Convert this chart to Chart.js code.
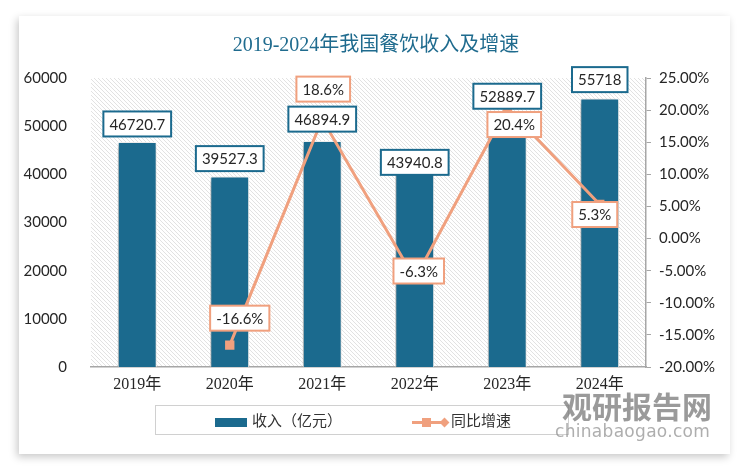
<!DOCTYPE html>
<html>
<head>
<meta charset="utf-8">
<script src="https://cdn.jsdelivr.net/npm/chart.js@4.4.1/dist/chart.umd.min.js"></script>
<style>
html,body{margin:0;padding:0;background:#fff;}
#wrap{position:relative;width:750px;height:471px;overflow:hidden;font-family:Lato,"Noto Sans CJK SC",sans-serif;}
#card{position:absolute;left:19px;top:16px;width:711px;height:438px;background:#fff;box-shadow:-2px 3px 8px rgba(0,0,0,.22);}
#c{position:absolute;left:0;top:0;}
#ttl{position:absolute;left:0;width:752px;top:28px;text-align:center;font:20px "Liberation Serif","Noto Sans CJK SC",serif;color:#1f6b8e;}
#leg{position:absolute;left:155px;top:405px;width:414px;height:30px;border:1px solid #d0d0d0;box-sizing:border-box;font:15px "Noto Sans CJK SC",sans-serif;color:#333;}
#leg .sw{position:absolute;left:59px;top:12px;width:32px;height:9px;background:#1b6a8e;}
#leg .t1{position:absolute;left:96px;top:3px;}
#leg .ln{position:absolute;left:256px;top:15px;width:36px;height:3px;background:#f0a07e;}
#leg .sq{position:absolute;left:266px;top:12px;width:9px;height:9px;background:#f0a07e;}
#leg .dm{position:absolute;left:285px;top:13px;width:7px;height:7px;background:#f0a07e;transform:rotate(45deg);}
#leg .t2{position:absolute;left:295px;top:3px;}
#wm1{position:absolute;left:562px;top:383px;font:bold 30px "Noto Sans CJK SC",sans-serif;color:rgba(120,120,120,.75);}
#wm2{position:absolute;left:555px;top:421px;font:17px "DejaVu Sans",sans-serif;color:rgba(140,140,140,.7);letter-spacing:0.3px;}
</style>
</head>
<body>
<div id="wrap">
  <div id="card"></div>
  <canvas id="c" width="750" height="471"></canvas>
  <div id="ttl">2019-2024年我国餐饮收入及增速</div>
  <div id="leg">
    <div class="sw"></div><div class="t1">收入（亿元）</div>
    <div class="ln"></div><div class="sq"></div><div class="dm"></div><div class="t2">同比增速</div>
  </div>
  <div id="wm1">观研报告网</div>
  <div id="wm2">chinabaogao.com</div>
</div>
<script>
// ── DATA ──────────────────────────────────────────────────────────────────────
const years  = ['2019年','2020年','2021年','2022年','2023年','2024年'];
const income = [46720.7, 39527.3, 46894.9, 43940.8, 52889.7, 55718];
const growth = [null, -16.6, 18.6, -6.3, 20.4, 5.3];
const incomeTicks = {min:0, max:60000, step:10000};
const growthTicks = {min:-20, max:25, step:5};

// ── STYLE ─────────────────────────────────────────────────────────────────────
const BAR='#1b6a8e', LINE='#f0a07e', TXT='#262626', AX='#a6a6a6';
// label offsets (px) relative to bar top / line point
const barLblDy  = [-18,-18,-22,7,-16,-19];
const lineLblDx = [0,10,1,4,7,-5];
const lineLblDy = [0,-27,-30,-8,17,10];

function hatch(ctx){
  const c=document.createElement('canvas'); c.width=4; c.height=4;
  const g=c.getContext('2d');
  g.strokeStyle='#e2e2e2'; g.lineWidth=1;
  g.beginPath(); g.moveTo(-1,-1); g.lineTo(5,5); g.stroke();
  g.beginPath(); g.moveTo(-1,3); g.lineTo(1,5); g.stroke();
  g.beginPath(); g.moveTo(3,-1); g.lineTo(5,1); g.stroke();
  return ctx.createPattern(c,'repeat');
}

function box(ctx, text, cx, cy, col){
  ctx.font='15px Lato';
  const w=ctx.measureText(text).width+12, h=25;
  ctx.fillStyle='#fff'; ctx.fillRect(cx-w/2, cy-h/2, w, h);
  ctx.lineWidth=2; ctx.strokeStyle=col; ctx.strokeRect(cx-w/2, cy-h/2, w, h);
  ctx.fillStyle=TXT; ctx.textAlign='center'; ctx.textBaseline='middle';
  ctx.fillText(text, cx, cy+1);
}

const plotBg={
  id:'plotBg',
  beforeDraw(chart){
    const {ctx, chartArea:a}=chart;
    ctx.save(); ctx.fillStyle=hatch(ctx);
    ctx.fillRect(a.left, a.top, a.right-a.left, a.bottom-a.top);
    ctx.restore();
  },
  beforeDatasetDraw(chart,args){
    if(args.meta.type!=='bar') return;
    const ctx=chart.ctx; ctx.save();
    ctx.shadowColor='rgba(0,0,0,.35)'; ctx.shadowBlur=6; ctx.shadowOffsetX=-2; ctx.shadowOffsetY=2;
  },
  afterDatasetDraw(chart,args){ if(args.meta.type==='bar') chart.ctx.restore(); }
};

const lbls={
  id:'lbls',
  afterDatasetsDraw(chart){
    const ctx=chart.ctx; ctx.save();
    chart.getDatasetMeta(1).data.forEach((b,i)=>box(ctx, String(income[i]), b.x, b.y+barLblDy[i], BAR));
    chart.getDatasetMeta(0).data.forEach((p,i)=>{
      if(growth[i]==null) return;
      box(ctx, growth[i].toFixed(1)+'%', p.x+lineLblDx[i], p.y+lineLblDy[i], LINE);
    });
    ctx.restore();
  }
};

new Chart(document.getElementById('c'),{
  data:{
    labels:years,
    datasets:[
      {type:'line', data:growth, yAxisID:'y1', order:0, borderColor:LINE, backgroundColor:LINE, borderWidth:3,
       pointStyle:'rect', pointRadius:4.5, pointBackgroundColor:LINE, pointBorderColor:LINE, tension:0, spanGaps:false},
      {type:'bar', data:income, yAxisID:'y', order:1, backgroundColor:BAR, borderColor:'#ffffff', borderWidth:1,
       barPercentage:0.42, categoryPercentage:1}
    ]
  },
  options:{
    responsive:false, animation:false,
    layout:{padding:{top:78,left:0,right:0,bottom:0}},
    plugins:{legend:{display:false}, tooltip:{enabled:false}},
    scales:{
      x:{
        grid:{display:false, drawTicks:false},
        border:{display:true, color:AX, width:1.5},
        ticks:{color:TXT, padding:8, font:{family:'"Liberation Serif","Noto Sans CJK SC"', size:16}},
        afterFit(s){ s.height=104; }
      },
      y:{
        position:'left', min:incomeTicks.min, max:incomeTicks.max,
        grid:{display:false}, border:{display:false},
        ticks:{stepSize:incomeTicks.step, color:TXT, padding:16, font:{family:'Lato', size:15},
               callback:v=>String(v)},
        afterFit(s){ s.width=91; }
      },
      y1:{
        position:'right', min:growthTicks.min, max:growthTicks.max,
        grid:{drawOnChartArea:false, color:AX, tickLength:5},
        border:{display:true, color:AX, width:1.5},
        ticks:{stepSize:growthTicks.step, color:TXT, padding:8, font:{family:'Lato', size:15},
               callback:v=>v.toFixed(2)+'%'},
        afterFit(s){ s.width=104; }
      }
    }
  },
  plugins:[plotBg, lbls]
});
</script>
</body>
</html>
